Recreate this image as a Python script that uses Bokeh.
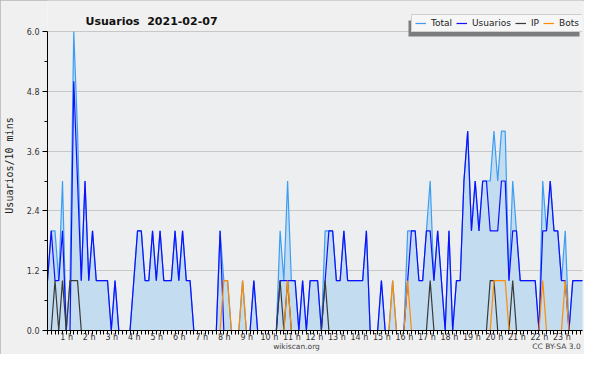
from bokeh.plotting import figure
from bokeh.models import (Range1d, FixedTicker, Legend, LegendItem, Label, LinearAxis,
                          NumeralTickFormatter, ColumnDataSource, BoxAnnotation)
from bokeh.embed import file_html
from bokeh.resources import INLINE

# 10-minute slots of the day (0 .. 143)
slots = list(range(144))

total = [1, 2, 2, 1, 3, 0, 1, 6, 4, 1,
         3, 1, 2, 1, 1, 1, 1, 0, 1, 0,
         0, 0, 0, 1, 2, 2, 1, 1, 2, 1,
         2, 1, 1, 1, 2, 1, 2, 1, 1, 0,
         0, 0, 0, 0, 0, 0, 2, 1, 1, 0,
         0, 0, 1, 0, 0, 1, 0, 0, 0, 0,
         0, 0, 2, 1, 3, 1, 1, 0, 1, 0,
         1, 1, 1, 0, 2, 2, 2, 1, 1, 2,
         1, 1, 1, 1, 1, 2, 0, 0, 0, 1,
         0, 0, 1, 0, 0, 0, 2, 2, 2, 1,
         1, 2, 3, 1, 2, 1, 0, 2, 0, 1,
         1, 3, 4, 2, 3, 2, 3, 3, 3, 4,
         3, 4, 4, 1, 3, 2, 1, 1, 1, 1,
         1, 0, 3, 2, 3, 2, 2, 1, 2, 0,
         1, 1, 1, 1]

usuarios = [1, 2, 1, 1, 2, 0, 0, 5, 3, 1,
            3, 1, 2, 1, 1, 1, 1, 0, 1, 0,
            0, 0, 0, 1, 2, 2, 1, 1, 2, 1,
            2, 1, 1, 1, 2, 1, 2, 1, 1, 0,
            0, 0, 0, 0, 0, 0, 2, 0, 0, 0,
            0, 0, 0, 0, 0, 1, 0, 0, 0, 0,
            0, 0, 1, 1, 1, 1, 1, 0, 1, 0,
            1, 1, 1, 0, 1, 2, 2, 1, 1, 2,
            1, 1, 1, 1, 1, 2, 0, 0, 0, 1,
            0, 0, 0, 0, 0, 0, 1, 2, 2, 1,
            1, 2, 2, 1, 2, 1, 0, 2, 0, 1,
            1, 3, 4, 2, 3, 2, 3, 3, 2, 2,
            2, 3, 3, 1, 2, 2, 1, 1, 1, 1,
            1, 0, 2, 2, 3, 2, 2, 1, 1, 0,
            1, 1, 1, 1]

ip = [0, 0, 1, 0, 1, 0, 1, 1, 1, 0,
      0, 0, 0, 0, 0, 0, 0, 0, 0, 0,
      0, 0, 0, 0, 0, 0, 0, 0, 0, 0,
      0, 0, 0, 0, 0, 0, 0, 0, 0, 0,
      0, 0, 0, 0, 0, 0, 0, 0, 0, 0,
      0, 0, 0, 0, 0, 0, 0, 0, 0, 0,
      0, 0, 1, 0, 1, 0, 0, 0, 0, 0,
      0, 0, 0, 0, 1, 0, 0, 0, 0, 0,
      0, 0, 0, 0, 0, 0, 0, 0, 0, 0,
      0, 0, 0, 0, 0, 0, 0, 0, 0, 0,
      0, 0, 1, 0, 0, 0, 0, 0, 0, 0,
      0, 0, 0, 0, 0, 0, 0, 0, 1, 1,
      0, 0, 0, 0, 1, 0, 0, 0, 0, 0,
      0, 0, 0, 0, 0, 0, 0, 0, 0, 0,
      0, 0, 0, 0]

bots = [0, 0, 0, 0, 0, 0, 0, 0, 0, 0,
        0, 0, 0, 0, 0, 0, 0, 0, 0, 0,
        0, 0, 0, 0, 0, 0, 0, 0, 0, 0,
        0, 0, 0, 0, 0, 0, 0, 0, 0, 0,
        0, 0, 0, 0, 0, 0, 0, 1, 1, 0,
        0, 0, 1, 0, 0, 0, 0, 0, 0, 0,
        0, 0, 0, 0, 1, 0, 0, 0, 0, 0,
        0, 0, 0, 0, 0, 0, 0, 0, 0, 0,
        0, 0, 0, 0, 0, 0, 0, 0, 0, 0,
        0, 0, 1, 0, 0, 0, 1, 0, 0, 0,
        0, 0, 0, 0, 0, 0, 0, 0, 0, 0,
        0, 0, 0, 0, 0, 0, 0, 0, 0, 1,
        1, 1, 1, 0, 0, 0, 0, 0, 0, 0,
        0, 0, 1, 0, 0, 0, 0, 0, 1, 0,
        0, 0, 0, 0]

hour_labels = ["1 h", "2 h", "3 h", "4 h", "5 h", "6 h", "7 h", "8 h", "9 h",
               "10 h", "11 h", "12 h", "13 h", "14 h", "15 h", "16 h", "17 h",
               "18 h", "19 h", "20 h", "21 h", "22 h", "23 h"]
y_ticks = [0.0, 1.2, 2.4, 3.6, 4.8, 6.0]
y_minor = [0.6, 1.8, 3.0, 4.2, 5.4]
footer_texts = ["wikiscan.org", "CC BY-SA 3.0"]

src = ColumnDataSource(dict(slot=slots, total=total, usuarios=usuarios,
                            ip=ip, bots=bots))

# ---- layout geometry (pixels) ----
W, H = 584, 354
LEFT, RIGHT, BOTTOM = 47, 2, 24
FRAME_W = W - LEFT - RIGHT
FRAME_H = H - BOTTOM               # frame spans from the very top of the figure
Y6_PX = 31                          # pixel row of the 6.0 grid line
X_END = 142.6
y_end = 6.0 * FRAME_H / (FRAME_H - Y6_PX)


def px_to_x(px):
    return (px - LEFT) * X_END / FRAME_W


def px_to_y(py):
    return (FRAME_H - py) * y_end / FRAME_H


p = figure(width=W, height=H, output_backend="svg", toolbar_location=None,
           x_range=Range1d(0, X_END), y_range=Range1d(0, y_end),
           min_border_left=LEFT, min_border_right=RIGHT,
           min_border_top=0, min_border_bottom=BOTTOM,
           styles={"outline": "1px solid #b4b4b4", "outline-offset": "-1px"})
p.background_fill_color = "#f0f0f0"
p.border_fill_color = "#f0f0f0"
p.outline_line_color = None
p.title.visible = False

# plot-area background (only up to 6.0)
p.add_layout(BoxAnnotation(bottom=0, top=6.0, fill_color="#eceef0", fill_alpha=1,
                           line_color=None, level="image"))

# grid
p.xgrid.visible = False
p.ygrid.grid_line_color = "#c8c8c8"
p.ygrid.grid_line_width = 1

# x axis: small ticks every 10 minutes, hour labels
hour_pos = [round(6 * (k + 1) - 0.88, 2) for k in range(len(hour_labels))]
xa = p.xaxis[0]
xa.ticker = FixedTicker(ticks=hour_pos, minor_ticks=slots[:143])
xa.major_label_overrides = {pos: lab for pos, lab in zip(hour_pos, hour_labels)}
xa.major_tick_line_color = None
xa.major_tick_out = 1
xa.major_tick_in = 0
xa.major_label_standoff = -2
xa.minor_tick_line_color = "black"
xa.minor_tick_out = 4
xa.minor_tick_in = 0
xa.axis_line_color = "black"
xa.major_label_text_font = "DejaVu Sans"
xa.major_label_text_font_size = "8px"
xa.major_label_text_color = "#333333"

# footer line (site name and licence) as a bare second axis below
foot_pos = [round(px_to_x(296), 2), round(px_to_x(556), 2)]
fa = LinearAxis(ticker=FixedTicker(ticks=foot_pos, minor_ticks=[]),
                major_label_overrides={pos: t for pos, t in zip(foot_pos, footer_texts)},
                axis_line_color=None, major_tick_line_color=None,
                minor_tick_line_color=None, major_tick_out=0, major_tick_in=0,
                major_label_standoff=-3, major_label_text_font="DejaVu Sans",
                major_label_text_font_size="7.5px", major_label_text_color="#444444")
p.add_layout(fa, "below")

# y axis
p.yaxis.bounds = (0, 6.0)
p.yaxis.ticker = FixedTicker(ticks=y_ticks, minor_ticks=y_minor)
p.yaxis.formatter = NumeralTickFormatter(format="0.0")
p.yaxis.major_tick_out = 5
p.yaxis.major_tick_in = 0
p.yaxis.minor_tick_out = 3
p.yaxis.minor_tick_in = 0
p.yaxis.major_tick_line_color = "black"
p.yaxis.minor_tick_line_color = "black"
p.yaxis.axis_line_color = "black"
p.yaxis.major_label_standoff = 3
p.yaxis.major_label_text_font = "DejaVu Sans"
p.yaxis.major_label_text_font_size = "8px"
p.yaxis.major_label_text_color = "#333333"
p.yaxis.axis_label = "Usuarios/10 mins"
p.yaxis.axis_label_text_font = "DejaVu Sans Mono"
p.yaxis.axis_label_text_font_style = "normal"
p.yaxis.axis_label_text_font_size = "10px"
p.yaxis.axis_label_text_color = "#222222"
p.yaxis.axis_label_standoff = 9

# series
p.varea(x="slot", y1=0, y2="total", source=src, fill_color="#c4dcf0", fill_alpha=1)
r_total = p.line("slot", "total", source=src, line_color="#3d9df2", line_width=1.2)
r_user = p.line("slot", "usuarios", source=src, line_color="#1010ff", line_width=1.2)
r_ip = p.line("slot", "ip", source=src, line_color="#3a3a3a", line_width=1.2)
r_bots = p.line("slot", "bots", source=src, line_color="#ff8c00", line_width=1.2)

# title (inside the tall frame, above the 6.0 line)
p.add_layout(Label(x=38, y=FRAME_H - 21, x_units="screen", y_units="screen",
                   text="Usuarios\u00a0 2021-02-07", text_align="left",
                   text_baseline="alphabetic", text_font="DejaVu Sans",
                   text_font_style="bold", text_font_size="11px",
                   text_color="#111111"))

# legend (top right) with a drop shadow
LEG_LEFT, LEG_RIGHT, LEG_TOP, LEG_BOTTOM = 411, 582, 16, 32
p.add_layout(BoxAnnotation(left=px_to_x(LEG_LEFT - 3), right=px_to_x(LEG_RIGHT - 3),
                           top=px_to_y(LEG_TOP + 4), bottom=px_to_y(LEG_BOTTOM + 4),
                           fill_color="#7c7c7c", fill_alpha=1, line_color=None))
names = ["Total", "Usuarios", "IP", "Bots"]
rends = [r_total, r_user, r_ip, r_bots]
legend = Legend(items=[LegendItem(label=n, renderers=[r]) for n, r in zip(names, rends)],
                location=(LEG_LEFT - LEFT, FRAME_H - LEG_BOTTOM),
                orientation="horizontal", glyph_width=11, glyph_height=10,
                label_height=10, label_width=0, label_standoff=5, spacing=4,
                padding=3, margin=0, label_text_font="DejaVu Sans",
                label_text_font_size="9px", background_fill_color="#f6f6f6",
                background_fill_alpha=1, border_line_color="#a8a8a8",
                label_text_color="#222222")
p.add_layout(legend, "center")

open("out.html", "w").write(file_html(p, INLINE))
